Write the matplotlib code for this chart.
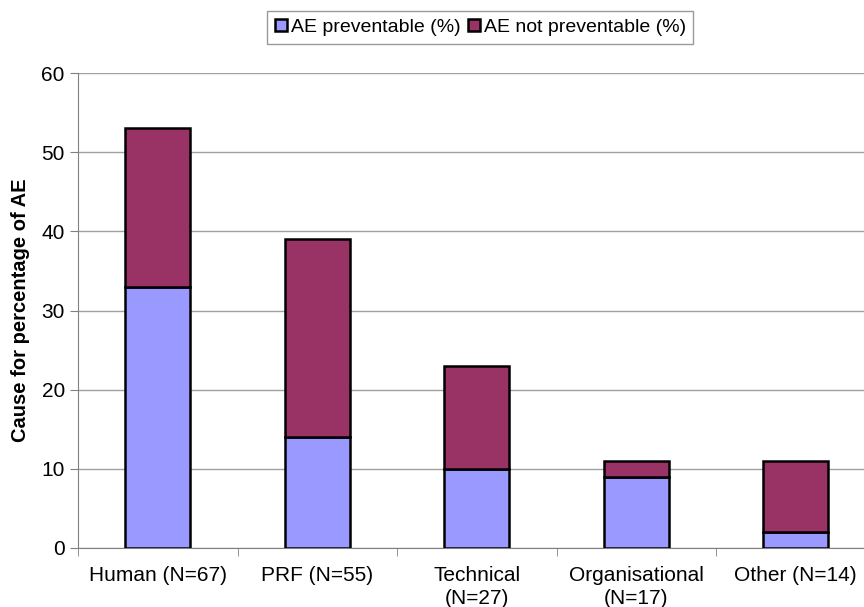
import matplotlib.pyplot as plt
import numpy as np

categories = ['Human (N=67)', 'PRF (N=55)', 'Technical\n(N=27)',
              'Organisational\n(N=17)', 'Other (N=14)']
preventable = [33, 14, 10, 9, 2]
not_preventable = [20, 25, 13, 2, 9]

plt.rcParams['font.family'] = ['Liberation Sans', 'DejaVu Sans']

fig = plt.figure(figsize=(8.64, 6.07), dpi=100)
ax = fig.add_axes([0.0903, 0.0972, 0.923, 0.7825])

x = np.arange(len(categories))
ax.bar(x, preventable, width=0.41, color='#9999FF', edgecolor='black',
       linewidth=1.8, label='AE preventable (%)', zorder=3)
ax.bar(x, not_preventable, width=0.41, bottom=preventable, color='#993366',
       edgecolor='black', linewidth=1.8, label='AE not preventable (%)', zorder=3)

ax.set_xlim(-0.5, len(categories) - 0.5)
ax.set_ylim(0, 60)
ax.set_yticks(range(0, 61, 10))
ax.yaxis.grid(True, color='#a0a0a0', linewidth=1, zorder=0)

ax.set_xticks(x)
ax.set_xticklabels(categories, fontsize=15, linespacing=1.25)
ax.set_xticks(np.arange(-0.5, len(categories), 1), minor=True)
ax.tick_params(axis='x', which='major', length=0, pad=13)
ax.tick_params(axis='x', which='minor', length=6, color='#808080', direction='out')
ax.tick_params(axis='y', labelsize=15, length=6, color='#808080', direction='out')

for side in ['top', 'right']:
    ax.spines[side].set_visible(False)
for side in ['left', 'bottom']:
    ax.spines[side].set_color('#808080')

ax.set_ylabel('Cause for percentage of AE', fontsize=14.5, fontweight='bold', labelpad=8)

leg = fig.legend(loc='center', bbox_to_anchor=(0.556, 0.955), ncol=2, fontsize=14,
                 frameon=True, fancybox=False, edgecolor='#808080',
                 handlelength=0.6, handleheight=0.6, handletextpad=0.2,
                 columnspacing=0.4, borderpad=0.4)

fig.savefig('out.png', dpi=100)
